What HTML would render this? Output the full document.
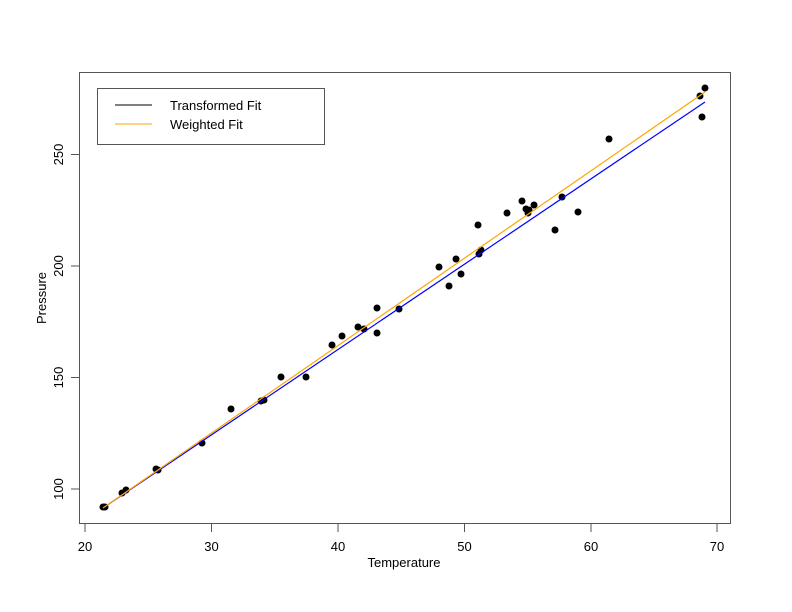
<!DOCTYPE html>
<html><head><style>body{margin:0;background:#fff}svg{display:block}text{font-family:"Liberation Sans",sans-serif;font-size:13px;fill:#000}</style></head><body>
<svg width="792" height="612" xmlns="http://www.w3.org/2000/svg">
<rect width="792" height="612" fill="#fff"/>
<rect x="79.5" y="72.5" width="651" height="451" fill="none" stroke="#555" stroke-width="1"/>
<g stroke="#555" stroke-width="1">
<line x1="85" y1="524" x2="85" y2="532"/><line x1="211.5" y1="524" x2="211.5" y2="532"/><line x1="338" y1="524" x2="338" y2="532"/><line x1="464.5" y1="524" x2="464.5" y2="532"/><line x1="591" y1="524" x2="591" y2="532"/><line x1="717" y1="524" x2="717" y2="532"/>
<line x1="71" y1="489" x2="79" y2="489"/><line x1="71" y1="377.5" x2="79" y2="377.5"/><line x1="71" y1="266" x2="79" y2="266"/><line x1="71" y1="154.5" x2="79" y2="154.5"/>
</g>
<g text-anchor="middle">
<text x="85" y="551">20</text><text x="211.5" y="551">30</text><text x="338" y="551">40</text><text x="464.5" y="551">50</text><text x="591" y="551">60</text><text x="717" y="551">70</text>
<text x="404" y="567">Temperature</text>
<text transform="translate(63,489) rotate(-90)">100</text>
<text transform="translate(63,377.5) rotate(-90)">150</text>
<text transform="translate(63,266) rotate(-90)">200</text>
<text transform="translate(63,154.5) rotate(-90)">250</text>
<text transform="translate(46,298) rotate(-90)">Pressure</text>
</g>
<g fill="#000">
<circle cx="103" cy="507" r="3.5"/><circle cx="105" cy="507" r="3.5"/><circle cx="122" cy="493" r="3.5"/><circle cx="126" cy="490" r="3.5"/><circle cx="156" cy="469" r="3.5"/><circle cx="158" cy="470" r="3.5"/><circle cx="202" cy="443" r="3.5"/><circle cx="231" cy="409" r="3.5"/><circle cx="261" cy="401" r="3.5"/><circle cx="264" cy="400" r="3.5"/><circle cx="281" cy="377" r="3.5"/><circle cx="306" cy="377" r="3.5"/><circle cx="332" cy="345" r="3.5"/><circle cx="342" cy="336" r="3.5"/><circle cx="358" cy="327" r="3.5"/><circle cx="364" cy="329" r="3.5"/><circle cx="377" cy="308" r="3.5"/><circle cx="377" cy="333" r="3.5"/><circle cx="399" cy="309" r="3.5"/><circle cx="439" cy="267" r="3.5"/><circle cx="449" cy="286" r="3.5"/><circle cx="456" cy="259" r="3.5"/><circle cx="461" cy="274" r="3.5"/><circle cx="478" cy="225" r="3.5"/><circle cx="479" cy="254" r="3.5"/><circle cx="481" cy="250" r="3.5"/><circle cx="507" cy="213" r="3.5"/><circle cx="522" cy="201" r="3.5"/><circle cx="526" cy="209" r="3.5"/><circle cx="528" cy="213" r="3.5"/><circle cx="529" cy="210" r="3.5"/><circle cx="534" cy="205" r="3.5"/><circle cx="555" cy="230" r="3.5"/><circle cx="562" cy="197" r="3.5"/><circle cx="578" cy="212" r="3.5"/><circle cx="609" cy="139" r="3.5"/><circle cx="700" cy="96" r="3.5"/><circle cx="702" cy="117" r="3.5"/><circle cx="705" cy="88" r="3.5"/>
</g>
<line x1="103" y1="508" x2="705" y2="102" stroke="#0000ff" stroke-width="1.2"/>
<line x1="103" y1="508" x2="705" y2="92" stroke="#ffa500" stroke-width="1.2"/>
<rect x="97.5" y="88.5" width="227" height="56" fill="#fff" stroke="#555"/>
<line x1="115" y1="105" x2="152" y2="105" stroke="#000"/>
<line x1="115" y1="124" x2="152" y2="124" stroke="#ffa500"/>
<text x="170" y="110">Transformed Fit</text>
<text x="170" y="129">Weighted Fit</text>
</svg>
</body></html>
